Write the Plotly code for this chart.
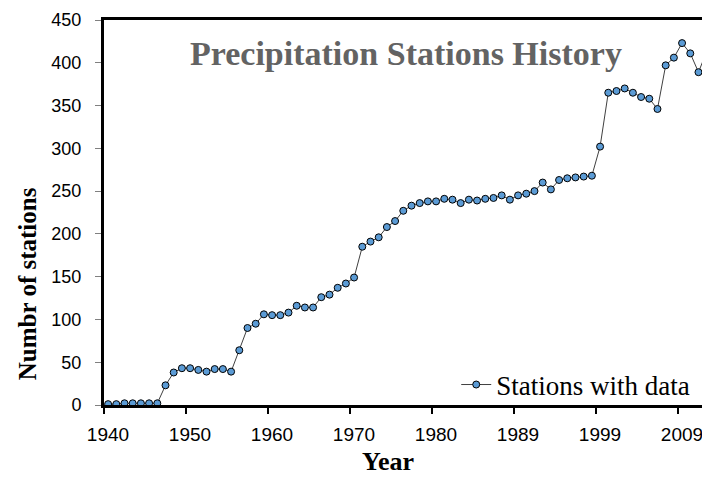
import plotly.graph_objects as go

# station counts per year (category axis)
stations = [1, 1, 2, 2, 2, 2, 2, 23, 38, 43,
            43, 41, 39, 42, 42, 39, 64, 90, 95, 106,
            105, 105, 108, 116, 114, 114, 126, 129, 137, 142,
            149, 185, 191, 196, 208, 215, 227, 233, 236, 238,
            238, 241, 240, 236, 240, 239, 241, 242, 245, 240,
            245, 247, 250, 260, 252, 263, 265, 266, 267, 268,
            302, 365, 367, 370, 365, 360, 358, 346, 397, 406,
            423, 411, 389, 413]
tick_labels = ['1940', '1950', '1960', '1970', '1980', '1989', '1999', '2009']
tick_pos = [0, 10, 20, 30, 40, 50, 60, 70]
xpos = [i + 0.5 for i in range(len(stations))]

serif = 'Liberation Serif'
sans = 'Liberation Sans'

fig = go.Figure()
fig.add_trace(go.Scatter(
    x=xpos, y=stations, mode='lines+markers', name='Stations with data',
    line=dict(color='#404040', width=1),
    marker=dict(size=7, color='#5B9BD5', line=dict(color='#000000', width=1)),
))

fig.update_layout(
    width=702, height=477,
    margin=dict(l=104, r=0, t=20, b=72),
    plot_bgcolor='white', paper_bgcolor='white',
    showlegend=True,
    legend=dict(x=0.589, y=0.052, xanchor='left', yanchor='middle',
                bgcolor='rgba(0,0,0,0)', font=dict(family=serif, size=27, color='black')),
    annotations=[
        dict(text='<b>Precipitation Stations History</b>', xref='paper', yref='paper',
             x=0.505, y=0.914, showarrow=False, yanchor='middle',
             font=dict(family=serif, size=34, color='#636363')),
        dict(text='<b>Numbr of stations</b>', xref='paper', yref='paper',
             x=-0.128, y=0.315, showarrow=False, textangle=-90,
             xanchor='center', yanchor='middle',
             font=dict(family=serif, size=25, color='black')),
        dict(text='<b>Year</b>', xref='paper', yref='paper',
             x=0.475, y=-0.148, showarrow=False, yanchor='middle',
             font=dict(family=serif, size=26, color='black')),
    ],
)

fig.update_xaxes(
    range=[0, 72.93], tickmode='array', tickvals=tick_pos, ticktext=tick_labels,
    showgrid=False, zeroline=False, automargin=False,
    showline=True, linecolor='black', linewidth=3, mirror=True,
    ticks='outside', ticklen=6, tickwidth=2, tickcolor='black',
    ticklabelshift=4, ticklabelstandoff=4, ticklabeloverflow='allow',
    tickfont=dict(family=sans, size=19, color='black'),
)
fig.update_yaxes(
    range=[0, 450], dtick=50,
    showgrid=False, zeroline=False, automargin=False,
    showline=True, linecolor='black', linewidth=3, mirror=False,
    ticks='outside', ticklen=6, tickwidth=1, tickcolor='#808080',
    ticklabelstandoff=10,
    tickfont=dict(family=sans, size=18, color='black'),
)

# drop the default body margin so the figure sits at the window's corner
fig.write_html("out.html", config={'displayModeBar': False},
               post_script="document.body.style.margin='0';"
               "document.documentElement.style.overflow='hidden';")
